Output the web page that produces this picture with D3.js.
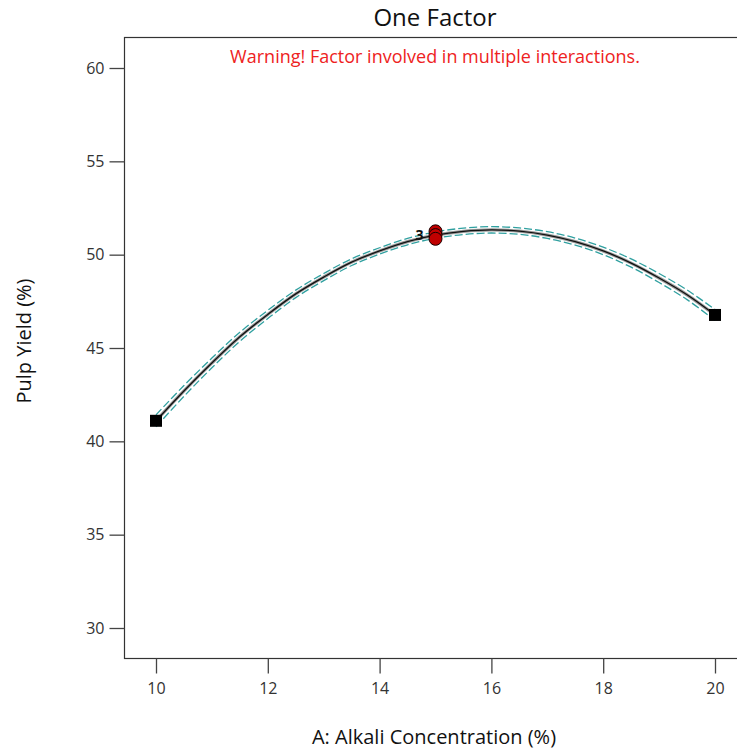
<!DOCTYPE html>
<html><head><meta charset="utf-8">
<script src="https://cdn.jsdelivr.net/npm/d3@7"></script>
<style>body{margin:0;background:#fff}svg{display:block}text{font-family:"Open Sans","Noto Sans",sans-serif}</style>
</head><body><svg id="c" width="737" height="753"></svg>
<script>
// Values
const alkali   = [10, 10.5, 11, 11.5, 12, 12.5, 13, 13.5, 14, 14.5, 15, 15.5, 16, 16.5, 17, 17.5, 18, 18.5, 19, 19.5, 20];
const yieldFit = [41.1, 42.7, 44.2, 45.6, 46.8, 47.9, 48.8, 49.6, 50.2, 50.7, 51.05, 51.25, 51.33, 51.26, 51.05, 50.7, 50.2, 49.55, 48.75, 47.85, 46.77];
const bandHalf = [0.32, 0.29, 0.26, 0.24, 0.22, 0.2, 0.19, 0.18, 0.17, 0.17, 0.17, 0.17, 0.17, 0.17, 0.18, 0.19, 0.2, 0.22, 0.24, 0.26, 0.29];
const designA  = [15, 15, 15];
const designY  = [51.25, 51.05, 50.85];
const endA     = [10, 20];
const endY     = [41.1, 46.77];
const xTicks   = [10, 12, 14, 16, 18, 20];
const yTicks   = [30, 35, 40, 45, 50, 55, 60];

const svg = d3.select("#c");
const L = 124.5, T = 37.5, B = 658.5, R = 760;
const x = d3.scaleLinear().domain([10, 20]).range([156, 715]);
const y = d3.scaleLinear().domain([30, 60]).range([628, 68]);

// frame
svg.append("rect").attr("x", L).attr("y", T).attr("width", R - L).attr("height", B - T)
  .attr("fill", "none").attr("stroke", "#333").attr("stroke-width", 1.2);

// axes
const yAxis = svg.append("g").attr("transform", `translate(${L},0)`)
  .call(d3.axisLeft(y).tickValues(yTicks).tickSize(15).tickPadding(5).tickFormat(d3.format("d")));
const xAxis = svg.append("g").attr("transform", `translate(0,${B})`)
  .call(d3.axisBottom(x).tickValues(xTicks).tickSize(15).tickPadding(9).tickFormat(d3.format("d")));
[yAxis, xAxis].forEach(g => {
  g.select(".domain").remove();
  g.selectAll(".tick line").attr("stroke", "#444").attr("stroke-width", 1.3);
  g.selectAll(".tick text").attr("font-size", 16).attr("fill", "#333");
});

const pts = alkali.map((a, i) => ({a, f: yieldFit[i], h: bandHalf[i]}));
const line = (acc) => d3.line().x(d => x(d.a)).y(d => y(acc(d))).curve(d3.curveCatmullRom);

// confidence band (dashed teal)
[d => d.f + d.h, d => d.f - d.h].forEach(acc => {
  svg.append("path").attr("d", line(acc)(pts)).attr("fill", "none")
    .attr("stroke", "#30a0a0").attr("stroke-width", 1.3).attr("stroke-dasharray", "8,3");
});
// fitted line with grey halo
svg.append("path").attr("d", line(d => d.f)(pts)).attr("fill", "none")
  .attr("stroke", "#999").attr("stroke-width", 3.2);
svg.append("path").attr("d", line(d => d.f)(pts)).attr("fill", "none")
  .attr("stroke", "#111").attr("stroke-width", 1.3);

// end squares
svg.selectAll("rect.end").data(endA.map((a, i) => [a, endY[i]])).enter().append("rect")
  .attr("x", d => x(d[0]) - 6).attr("y", d => y(d[1]) - 6).attr("width", 12).attr("height", 12)
  .attr("fill", "#000");

// design points
svg.selectAll("circle.dp").data(designA.map((a, i) => [a, designY[i]])).enter().append("circle")
  .attr("cx", d => x(d[0])).attr("cy", d => y(d[1])).attr("r", 6.5)
  .attr("fill", "#c00000").attr("stroke", "#1a0000").attr("stroke-width", 1);
svg.append("text").attr("x", x(15) - 12).attr("y", y(51.05) + 5).attr("text-anchor", "end")
  .attr("font-size", 14).attr("font-weight", "bold").attr("fill", "#111").text("3");

// texts
svg.append("text").attr("x", 435).attr("y", 26).attr("text-anchor", "middle")
  .attr("font-size", 24).attr("fill", "#111").text("One Factor");
svg.append("text").attr("x", 435).attr("y", 63).attr("text-anchor", "middle")
  .attr("font-size", 18).attr("fill", "#ee2222").text("Warning! Factor involved in multiple interactions.");
svg.append("text").attr("x", 434).attr("y", 744).attr("text-anchor", "middle")
  .attr("font-size", 20).attr("fill", "#111").text("A: Alkali Concentration (%)");
svg.append("text").attr("transform", "translate(31,341) rotate(-90)").attr("text-anchor", "middle")
  .attr("font-size", 20).attr("fill", "#111").text("Pulp Yield (%)");
</script>
</body></html>
